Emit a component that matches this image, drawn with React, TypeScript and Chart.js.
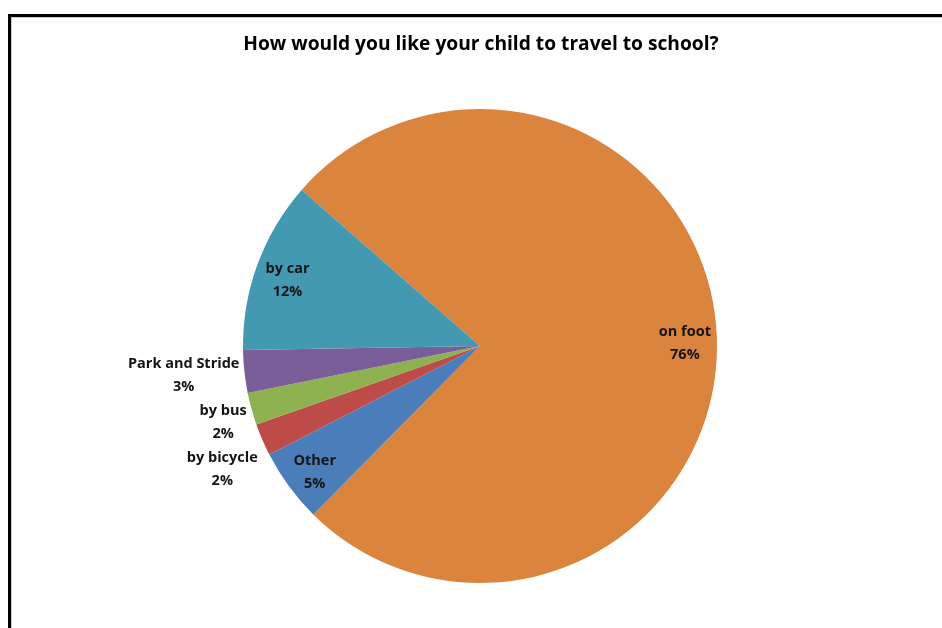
import { useEffect, useRef } from "react";
import { Chart, ArcElement, PieController } from "chart.js";

Chart.register(ArcElement, PieController);

const TITLE = "How would you like your child to travel to school?";
const categories = ["on foot", "Other", "by bicycle", "by bus", "Park and Stride", "by car"];
const percentages = [75.9, 5.0, 2.2, 2.2, 2.9, 11.7];
const colors = ["#DA843E", "#4A7DBA", "#BD4B48", "#8DB24F", "#7A5E9A", "#4399B1"];
const startAngleDeg = 311.2;

const FONT_FAMILY = "'Open Sans', Lato, sans-serif";
const LABEL_FONT = `bold 14.5px ${FONT_FAMILY}`;
const TITLE_FONT = `bold 19.2px ${FONT_FAMILY}`;
const LINE_H = 23;

const framePlugin = {
  id: "frame",
  beforeDraw(chart: any) {
    const ctx = chart.ctx;
    const w = chart.width;
    const h = chart.height;
    ctx.save();
    ctx.fillStyle = "#ffffff";
    ctx.fillRect(0, 0, w, h);
    ctx.fillStyle = "#000000";
    ctx.fillRect(8, 14, w - 8, 3);
    ctx.fillRect(8, 14, 3, h - 14);
    ctx.fillStyle = "#c8c8c8";
    ctx.fillRect(11, 17, w - 11, 1);
    ctx.fillRect(11, 17, 1, h - 17);
    ctx.restore();
  },
};

const labelPlugin = {
  id: "sliceLabels",
  afterDraw(chart: any) {
    const ctx = chart.ctx;
    const meta = chart.getDatasetMeta(0);
    const data = chart.data.datasets[0].data as number[];
    const total = data.reduce((a, b) => a + b, 0);
    ctx.save();
    // title
    ctx.font = TITLE_FONT;
    ctx.fillStyle = "#000000";
    ctx.textAlign = "center";
    ctx.textBaseline = "alphabetic";
    ctx.fillText(TITLE, (chart.chartArea.left + chart.chartArea.right) / 2 + 1, 50);

    ctx.font = LABEL_FONT;
    ctx.fillStyle = "#141414";
    ctx.textBaseline = "middle";
    const outside: any[] = [];
    meta.data.forEach((arc: any, i: number) => {
      const p = arc.getProps(["x", "y", "startAngle", "endAngle", "outerRadius"], true);
      const mid = (p.startAngle + p.endAngle) / 2;
      const frac = data[i] / total;
      const lines = [String(chart.data.labels[i]), `${Math.round(frac * 100)}%`];
      if (frac >= 0.04) {
        const d = p.outerRadius * 0.865;
        const cx = p.x + Math.cos(mid) * d;
        const cy = p.y + Math.sin(mid) * d + 5;
        ctx.textAlign = "center";
        ctx.fillText(lines[0], cx, cy - LINE_H / 2);
        ctx.fillText(lines[1], cx, cy + LINE_H / 2);
      } else {
        const d = p.outerRadius + 5;
        outside.push({
          lines,
          ax: p.x + Math.cos(mid) * d,
          ay: p.y + Math.sin(mid) * d,
          left: Math.cos(mid) < 0,
        });
      }
    });
    outside.sort((a, b) => a.ay - b.ay);
    let prev = -Infinity;
    outside.forEach((o) => {
      const y = Math.max(o.ay + 3, prev + 47);
      prev = y;
      const wMax = Math.max(...o.lines.map((s: string) => ctx.measureText(s).width));
      const cx = o.left ? o.ax - wMax / 2 : o.ax + wMax / 2;
      ctx.textAlign = "center";
      ctx.fillText(o.lines[0], cx, y - LINE_H / 2);
      ctx.fillText(o.lines[1], cx, y + LINE_H / 2);
    });
    ctx.restore();
  },
};

export default function App() {
  const ref = useRef<HTMLCanvasElement>(null);
  useEffect(() => {
    if (!ref.current) return;
    const chart = new Chart(ref.current, {
      type: "pie",
      data: {
        labels: categories,
        datasets: [
          {
            data: percentages,
            backgroundColor: colors,
            borderWidth: 0,
          },
        ],
      },
      options: {
        responsive: false,
        animation: false,
        rotation: startAngleDeg,
        layout: { padding: { left: 243, right: 225, top: 109, bottom: 45 } },
        plugins: { legend: { display: false }, tooltip: { enabled: false } },
      },
      plugins: [framePlugin, labelPlugin],
    });
    return () => chart.destroy();
  }, []);
  return (
    <div style={{ position: "fixed", left: 0, top: 0, width: 942, height: 628 }}>
      <canvas ref={ref} width={942} height={628} style={{ display: "block" }} />
    </div>
  );
}
